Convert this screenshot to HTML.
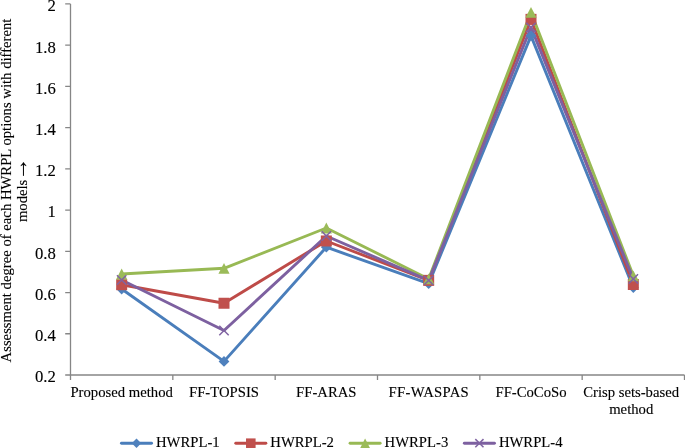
<!DOCTYPE html>
<html><head><meta charset="utf-8"><style>
html,body{margin:0;padding:0;background:#fff;width:685px;height:448px;overflow:hidden}
svg{display:block}
.t{font-family:"Liberation Serif","Times New Roman",serif;font-size:14.7px;fill:#000;stroke:#000;stroke-width:0.12px}
.t.yl{font-size:16.7px}
</style></head><body>
<svg width="685" height="448" viewBox="0 0 685 448">
<path d="M70.5 3.9V375.0H684.5" stroke="#868686" stroke-width="1.3" fill="none"/>
<path d="M65.2 375.00H70.5M65.2 333.77H70.5M65.2 292.53H70.5M65.2 251.30H70.5M65.2 210.07H70.5M65.2 168.83H70.5M65.2 127.60H70.5M65.2 86.37H70.5M65.2 45.13H70.5M65.2 3.90H70.5M70.50 375.0V380M172.83 375.0V380M275.17 375.0V380M377.50 375.0V380M479.83 375.0V380M582.17 375.0V380M684.50 375.0V380" stroke="#868686" stroke-width="1.3" fill="none"/>
<text x="55.8" y="382.40" text-anchor="end" class="t yl">0.2</text>
<text x="55.8" y="341.17" text-anchor="end" class="t yl">0.4</text>
<text x="55.8" y="299.93" text-anchor="end" class="t yl">0.6</text>
<text x="55.8" y="258.70" text-anchor="end" class="t yl">0.8</text>
<text x="55.8" y="217.47" text-anchor="end" class="t yl">1</text>
<text x="55.8" y="176.23" text-anchor="end" class="t yl">1.2</text>
<text x="55.8" y="135.00" text-anchor="end" class="t yl">1.4</text>
<text x="55.8" y="93.77" text-anchor="end" class="t yl">1.6</text>
<text x="55.8" y="52.53" text-anchor="end" class="t yl">1.8</text>
<text x="55.8" y="11.30" text-anchor="end" class="t yl">2</text>
<text x="121.67" y="397.3" text-anchor="middle" class="t">Proposed method</text>
<text x="224.00" y="397.3" text-anchor="middle" class="t">FF-TOPSIS</text>
<text x="326.33" y="397.3" text-anchor="middle" class="t">FF-ARAS</text>
<text x="428.67" y="397.3" text-anchor="middle" class="t" textLength="80.2" lengthAdjust="spacing">FF-WASPAS</text>
<text x="531.00" y="397.3" text-anchor="middle" class="t">FF-CoCoSo</text>
<text x="631.13" y="397.3" text-anchor="middle" class="t">Crisp sets-based</text>
<text x="631.23" y="413.7" text-anchor="middle" class="t">method</text>
<text transform="translate(11.0 190.5) rotate(-90)" text-anchor="middle" class="t">Assessment degree of each HWRPL options with different</text>
<text transform="translate(27.0 222.1) rotate(-90)" class="t">models <tspan dx="-4.2" style="font-size:22.5px">→</tspan></text>
<polyline points="121.67,289.03 224.00,361.39 326.33,247.18 428.67,283.67 531.00,35.86 633.33,287.59" fill="none" stroke="#4A7EBB" stroke-width="2.9" stroke-linejoin="round" stroke-linecap="round"/>
<polyline points="121.67,284.70 224.00,303.25 326.33,240.99 428.67,280.37 531.00,19.36 633.33,284.49" fill="none" stroke="#BE4B48" stroke-width="2.9" stroke-linejoin="round" stroke-linecap="round"/>
<polyline points="121.67,273.98 224.00,268.31 326.33,228.00 428.67,278.93 531.00,12.35 633.33,275.83" fill="none" stroke="#98B954" stroke-width="2.9" stroke-linejoin="round" stroke-linecap="round"/>
<polyline points="121.67,279.96 224.00,330.47 326.33,236.04 428.67,280.37 531.00,27.40 633.33,278.93" fill="none" stroke="#7D60A0" stroke-width="2.9" stroke-linejoin="round" stroke-linecap="round"/>
<path d="M121.67 283.63L127.07 289.03L121.67 294.43L116.27 289.03Z" fill="#4F81BD"/>
<path d="M224.00 355.99L229.40 361.39L224.00 366.79L218.60 361.39Z" fill="#4F81BD"/>
<path d="M326.33 241.78L331.73 247.18L326.33 252.58L320.93 247.18Z" fill="#4F81BD"/>
<path d="M428.67 278.27L434.07 283.67L428.67 289.07L423.27 283.67Z" fill="#4F81BD"/>
<path d="M531.00 30.46L536.40 35.86L531.00 41.26L525.60 35.86Z" fill="#4F81BD"/>
<path d="M633.33 282.19L638.73 287.59L633.33 292.99L627.93 287.59Z" fill="#4F81BD"/>
<rect x="116.17" y="279.20" width="11.00" height="11.00" fill="#C0504D"/>
<rect x="218.50" y="297.75" width="11.00" height="11.00" fill="#C0504D"/>
<rect x="320.83" y="235.49" width="11.00" height="11.00" fill="#C0504D"/>
<rect x="423.17" y="274.87" width="11.00" height="11.00" fill="#C0504D"/>
<rect x="525.50" y="13.86" width="11.00" height="11.00" fill="#C0504D"/>
<rect x="627.83" y="278.99" width="11.00" height="11.00" fill="#C0504D"/>
<path d="M121.67 268.58L127.27 279.38L116.07 279.38Z" fill="#9BBB59"/>
<path d="M224.00 262.91L229.60 273.71L218.40 273.71Z" fill="#9BBB59"/>
<path d="M326.33 222.60L331.93 233.40L320.73 233.40Z" fill="#9BBB59"/>
<path d="M428.67 273.53L434.27 284.33L423.07 284.33Z" fill="#9BBB59"/>
<path d="M531.00 6.95L536.60 17.75L525.40 17.75Z" fill="#9BBB59"/>
<path d="M633.33 270.43L638.93 281.23L627.73 281.23Z" fill="#9BBB59"/>
<path d="M116.97 275.26L126.37 284.66M126.37 275.26L116.97 284.66" stroke="#8064A2" stroke-width="1.5" fill="none"/>
<path d="M219.30 325.77L228.70 335.17M228.70 325.77L219.30 335.17" stroke="#8064A2" stroke-width="1.5" fill="none"/>
<path d="M321.63 231.34L331.03 240.74M331.03 231.34L321.63 240.74" stroke="#8064A2" stroke-width="1.5" fill="none"/>
<path d="M423.97 275.67L433.37 285.07M433.37 275.67L423.97 285.07" stroke="#8064A2" stroke-width="1.5" fill="none"/>
<path d="M526.30 22.70L535.70 32.10M535.70 22.70L526.30 32.10" stroke="#8064A2" stroke-width="1.5" fill="none"/>
<path d="M628.63 274.23L638.03 283.63M638.03 274.23L628.63 283.63" stroke="#8064A2" stroke-width="1.5" fill="none"/>
<path d="M121.45 443.2H151.55" stroke="#4A7EBB" stroke-width="2.9" stroke-linecap="round"/>
<path d="M136.50 438.50L141.20 443.20L136.50 447.90L131.80 443.20Z" fill="#4F81BD"/>
<text x="156.00" y="446.50" class="t">HWRPL-1</text>
<path d="M235.75 443.2H265.85" stroke="#BE4B48" stroke-width="2.9" stroke-linecap="round"/>
<rect x="246.02" y="438.41" width="9.57" height="9.57" fill="#C0504D"/>
<text x="270.30" y="446.50" class="t">HWRPL-2</text>
<path d="M350.05 443.2H380.15" stroke="#98B954" stroke-width="2.9" stroke-linecap="round"/>
<path d="M365.10 438.50L369.97 447.90L360.23 447.90Z" fill="#9BBB59"/>
<text x="384.60" y="446.50" class="t">HWRPL-3</text>
<path d="M464.35 443.2H494.45" stroke="#7D60A0" stroke-width="2.9" stroke-linecap="round"/>
<path d="M475.31 439.11L483.49 447.29M483.49 439.11L475.31 447.29" stroke="#8064A2" stroke-width="1.5" fill="none"/>
<text x="498.90" y="446.50" class="t">HWRPL-4</text>
</svg>
</body></html>
